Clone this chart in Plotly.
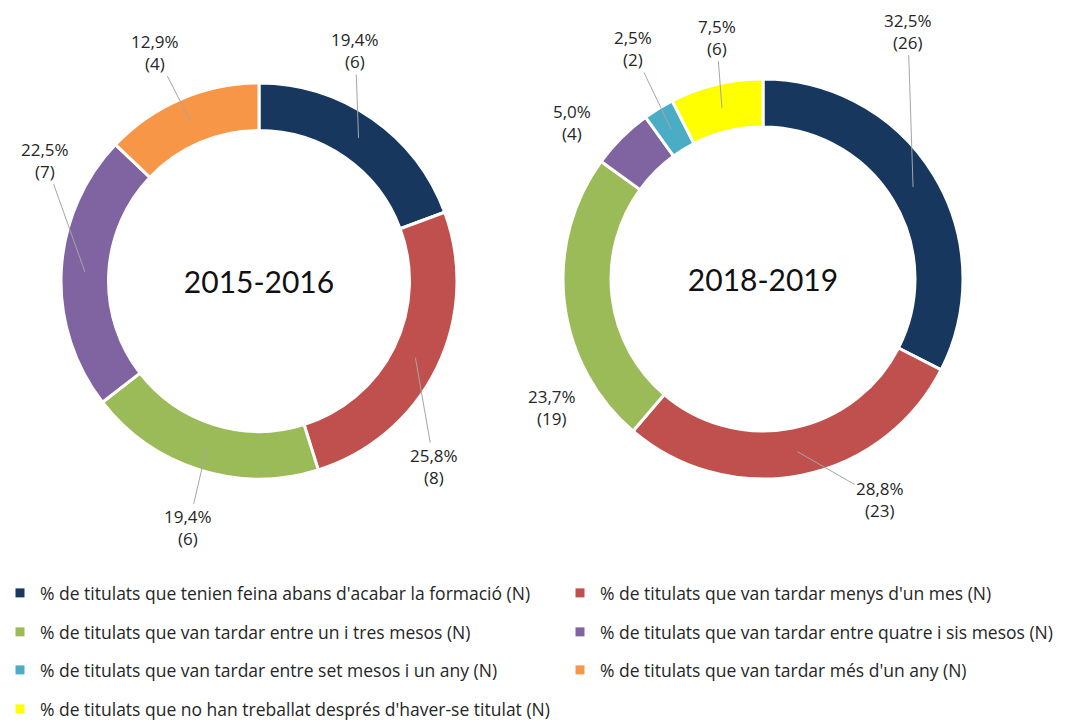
import math
import plotly.graph_objects as go

categories = [
    "% de titulats que tenien feina abans d'acabar la formació (N)",
    "% de titulats que van tardar menys d'un mes (N)",
    "% de titulats que van tardar entre un i tres mesos (N)",
    "% de titulats que van tardar entre quatre i sis mesos (N)",
    "% de titulats que van tardar entre set mesos i un any (N)",
    "% de titulats que van tardar més d'un any (N)",
    "% de titulats que no han treballat després d'haver-se titulat (N)",
]
colors = ["#17375E", "#C0504D", "#9BBB59", "#8064A2", "#4BACC6", "#F79646", "#FFFF00"]

# 2015-2016
cat_1516 = [0, 1, 2, 3, 5]
n_1516 = [6, 8, 6, 7, 4]
pct_1516 = [19.4, 25.8, 19.4, 22.5, 12.9]

# 2018-2019
cat_1819 = [0, 1, 2, 3, 4, 6]
n_1819 = [26, 23, 19, 4, 2, 6]
pct_1819 = [32.5, 28.8, 23.7, 5.0, 2.5, 7.5]

W, H = 1073, 722
OFF = 8  # page body margin
FONT = "Open Sans"
TXT = "#262626"
HOLE = 0.76

# label placement tweaks (px, relative to the automatic spot) and leader lines
nudge_1516 = [(-41, -33), (-40, 80), (0, 21), (19, -109), (-10, -10)]
lead_1516 = [True, True, True, True, True]
nudge_1819 = [(-62, -121), (71, -12), (24, 101), (-19, -9), (-4, -24), (9, -11)]
lead_1819 = [True, True, False, False, True, True]

fig = go.Figure()


def add_donut(title, cats, vals, pcts, cx, cy, r, nudges, leads):
    cx, cy = cx - OFF, cy - OFF
    fig.add_trace(go.Pie(
        labels=[categories[i] for i in cats],
        values=vals,
        marker=dict(colors=[colors[i] for i in cats], line=dict(color="white", width=3)),
        hole=HOLE, sort=False, direction="clockwise", rotation=0,
        textinfo="none", hoverinfo="label+value", showlegend=False,
        domain=dict(x=[(cx - r) / W, (cx + r) / W], y=[1 - (cy + r) / H, 1 - (cy - r) / H]),
        title=dict(text=title, position="middle center", font=dict(size=30, color="#111111", family="Lato")),
    ))
    total = sum(vals)
    cum = 0
    for v, p, (nx, ny), lead in zip(vals, pcts, nudges, leads):
        a = (cum + v / 2) / total * 2 * math.pi
        cum += v
        s, c = math.sin(a), math.cos(a)
        rm = r * (1 + HOLE) / 2
        px, py = cx + rm * s, cy - rm * c
        d = r + 8 + 26 * abs(s) + 24 * abs(c)
        lx, ly = cx + d * s + nx, cy - d * c + ny
        text = f"{p:.1f}".replace(".", ",") + f"%<br>({v})"
        font = dict(size=17, color=TXT, family=FONT)
        if lead:
            fig.add_annotation(
                x=px / W, y=1 - py / H, xref="paper", yref="paper", text=text,
                showarrow=True, arrowhead=0, arrowwidth=1, arrowcolor="#A6A6A6",
                ax=lx - px, ay=ly - py, font=font,
            )
        else:
            fig.add_annotation(x=lx / W, y=1 - ly / H, xref="paper", yref="paper",
                               text=text, showarrow=False, font=font)


add_donut("2015-2016", cat_1516, n_1516, pct_1516, 259, 281, 198, nudge_1516, lead_1516)
add_donut("2018-2019", cat_1819, n_1819, pct_1819, 763, 279, 200, nudge_1819, lead_1819)

# legend: two columns, four rows, one small legend per entry
col_x = [-8, 552]
row_y = [593, 632, 670, 709]
legends = {}
for i, name in enumerate(categories):
    key = "legend" if i == 0 else f"legend{i + 1}"
    fig.add_trace(go.Scatter(
        x=[None], y=[None], mode="markers", name=name, legend=key,
        marker=dict(symbol="square", size=9, color=colors[i]),
    ))
    legends[key] = dict(
        orientation="h", x=col_x[i % 2] / W, xanchor="left",
        y=1 - (row_y[i // 2] - OFF) / H, yanchor="middle", itemwidth=30,
        font=dict(size=17.5, color=TXT, family=FONT), bgcolor="rgba(0,0,0,0)",
    )

fig.update_layout(
    width=W, height=H,
    margin=dict(l=0, r=0, t=0, b=0, autoexpand=False),
    paper_bgcolor="white", plot_bgcolor="white",
    xaxis=dict(visible=False), yaxis=dict(visible=False),
    font=dict(family=FONT, color=TXT),
    **legends,
)

fig.write_html("out.html")
